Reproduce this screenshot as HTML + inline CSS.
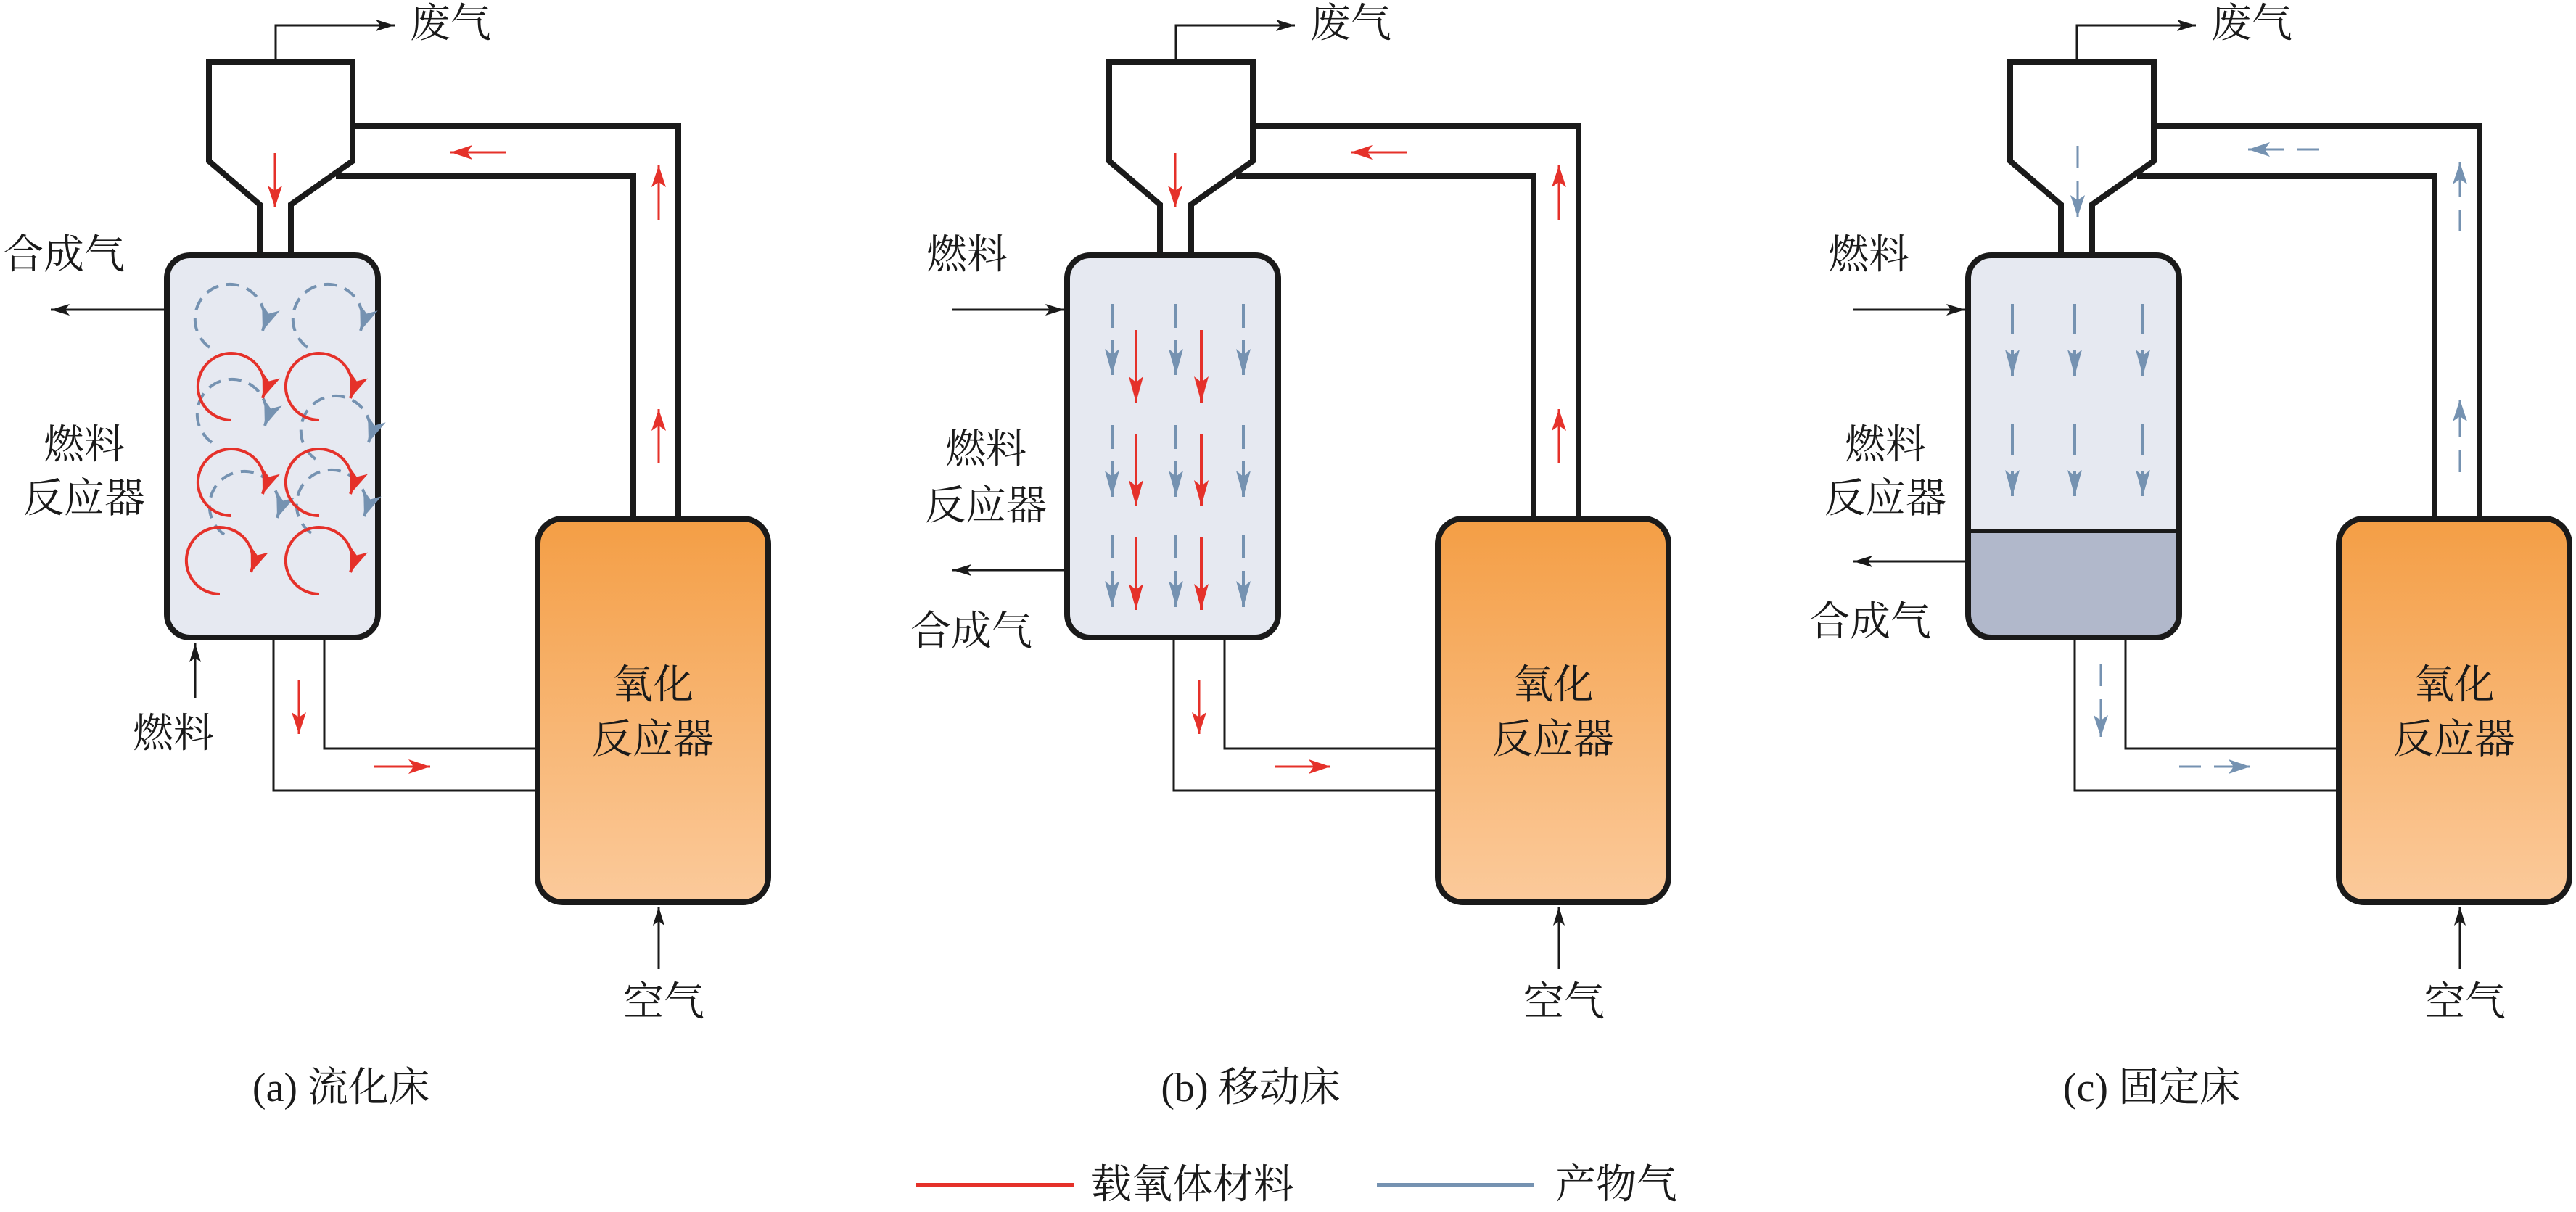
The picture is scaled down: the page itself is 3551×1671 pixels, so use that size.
<!DOCTYPE html>
<html><head><meta charset="utf-8"><style>
html,body{margin:0;padding:0;background:#fff}
svg{display:block}
text{font-family:"Liberation Serif","Noto Serif CJK SC",serif;font-size:56px;fill:#1a1a1a;dominant-baseline:central}
</style></head><body>
<svg width="3551" height="1671" viewBox="0 0 3551 1671" xmlns="http://www.w3.org/2000/svg">
<defs>
<marker id="hr" markerUnits="userSpaceOnUse" markerWidth="50" markerHeight="30" viewBox="-40 -15 42 30" refX="0" refY="0" orient="auto"><path d="M0,0 L-36,-10 L-28,0 L-36,10 Z" fill="#E5312A"/></marker>
<marker id="hrs" markerUnits="userSpaceOnUse" markerWidth="50" markerHeight="30" viewBox="-40 -15 42 30" refX="0" refY="0" orient="auto"><path d="M0,0 L-30,-10 L-23,0 L-30,10 Z" fill="#E5312A"/></marker>
<marker id="hrw" markerUnits="userSpaceOnUse" markerWidth="50" markerHeight="34" viewBox="-40 -17 42 34" refX="0" refY="0" orient="auto"><path d="M0,0 L-34,-13 L-25,0 L-34,13 Z" fill="#E5312A"/></marker>
<marker id="hb" markerUnits="userSpaceOnUse" markerWidth="50" markerHeight="30" viewBox="-40 -15 42 30" refX="0" refY="0" orient="auto"><path d="M0,0 L-36,-10 L-28,0 L-36,10 Z" fill="#7592B1"/></marker>
<marker id="hbs" markerUnits="userSpaceOnUse" markerWidth="50" markerHeight="30" viewBox="-40 -15 42 30" refX="0" refY="0" orient="auto"><path d="M0,0 L-30,-10 L-23,0 L-30,10 Z" fill="#7592B1"/></marker>
<marker id="hbw" markerUnits="userSpaceOnUse" markerWidth="50" markerHeight="34" viewBox="-40 -17 42 34" refX="0" refY="0" orient="auto"><path d="M0,0 L-34,-13 L-25,0 L-34,13 Z" fill="#7592B1"/></marker>
<marker id="hk" markerUnits="userSpaceOnUse" markerWidth="40" markerHeight="24" viewBox="-30 -12 32 24" refX="0" refY="0" orient="auto"><path d="M0,0 L-26,-8 L-20,0 L-26,8 Z" fill="#1a1a1a"/></marker>
<linearGradient id="og" x1="0" y1="0" x2="0" y2="1"><stop offset="0" stop-color="#F49E45"/><stop offset="1" stop-color="#FBCA9B"/></linearGradient>
<linearGradient id="fb" x1="0" y1="0" x2="0" y2="1"><stop offset="0.721" stop-color="#E6E9F1"/><stop offset="0.721" stop-color="#B1B8CB"/></linearGradient>
<g id="sk">
  <path d="M380,85 V35 H544" fill="none" stroke="#1a1a1a" stroke-width="3" marker-end="url(#hk)"/>
  <path d="M486,174 H935 V715" fill="none" stroke="#1a1a1a" stroke-width="8"/>
  <path d="M463,243 H873 V715" fill="none" stroke="#1a1a1a" stroke-width="8"/>
  <path d="M358,352 V282 L288,222 V85 H486 V222 L401,282 V352" fill="#fff" stroke="#1a1a1a" stroke-width="8" stroke-linejoin="miter"/>
  <path d="M377,879 V1090 H741 M447,879 V1032 H741" fill="none" stroke="#1a1a1a" stroke-width="3"/>
  <rect x="741" y="715" width="318" height="529" rx="35" fill="url(#og)" stroke="#1a1a1a" stroke-width="8"/>
  <path d="M908,1336 V1250" stroke="#1a1a1a" stroke-width="3" marker-end="url(#hk)"/>
  <text x="900" y="945" text-anchor="middle">氧化</text>
  <text x="900" y="1020" text-anchor="middle">反应器</text>
  <text x="915" y="1382" text-anchor="middle">空气</text>
</g>
</defs>

<!-- Panel A -->
<use href="#sk"/>
<rect x="230" y="352" width="291" height="527" rx="32" fill="#E6E9F1" stroke="#1a1a1a" stroke-width="8"/>
<g fill="none" stroke="#7592B1" stroke-width="4" stroke-dasharray="18 11">
  <path d="M289,479 A48,48 0 1 1 362,456" marker-end="url(#hbw)"/>
  <path d="M424,479 A48,48 0 1 1 497,456" marker-end="url(#hbw)"/>
  <path d="M292,610 A48,48 0 1 1 365,587" marker-end="url(#hbw)"/>
  <path d="M435,633 A48,48 0 1 1 508,610" marker-end="url(#hbw)"/>
  <path d="M309,737 A48,48 0 1 1 382,714" marker-end="url(#hbw)"/>
  <path d="M429,735 A48,48 0 1 1 502,712" marker-end="url(#hbw)"/>
</g>
<g fill="none" stroke="#E5312A" stroke-width="4">
  <path d="M319,579 A46,46 0 1 1 362,549" marker-end="url(#hrw)"/>
  <path d="M440,579 A46,46 0 1 1 483,549" marker-end="url(#hrw)"/>
  <path d="M319,711 A46,46 0 1 1 362,681" marker-end="url(#hrw)"/>
  <path d="M440,711 A46,46 0 1 1 483,681" marker-end="url(#hrw)"/>
  <path d="M303,819 A46,46 0 1 1 346,789" marker-end="url(#hrw)"/>
  <path d="M440,819 A46,46 0 1 1 483,789" marker-end="url(#hrw)"/>
</g>
<g stroke="#E5312A" stroke-width="3" fill="none">
  <path d="M379,211 V286" marker-end="url(#hrs)"/>
  <path d="M698,210 H621" marker-end="url(#hrs)"/>
  <path d="M908,303 V228" marker-end="url(#hrs)"/>
  <path d="M908,638 V564" marker-end="url(#hrs)"/>
  <path d="M412,937 V1012" marker-end="url(#hrs)"/>
  <path d="M516,1057 H593" marker-end="url(#hrs)"/>
</g>
<path d="M226,427 H70" stroke="#1a1a1a" stroke-width="3" marker-end="url(#hk)"/>
<path d="M269,962 V887" stroke="#1a1a1a" stroke-width="3" marker-end="url(#hk)"/>
<text x="565" y="33">废气</text>
<text x="4" y="352">合成气</text>
<text x="116" y="614" text-anchor="middle">燃料</text>
<text x="116" y="688" text-anchor="middle">反应器</text>
<text x="239" y="1012" text-anchor="middle">燃料</text>
<text x="470" y="1500" text-anchor="middle">(a) 流化床</text>

<!-- Panel B -->
<g transform="translate(1241,0)">
<use href="#sk"/>
<rect x="230" y="352" width="291" height="527" rx="32" fill="#E6E9F1" stroke="#1a1a1a" stroke-width="8"/>
<g stroke="#7592B1" stroke-width="4" fill="none" stroke-dasharray="33 17 200">
  <path d="M292,419 V517" marker-end="url(#hb)"/><path d="M380,419 V517" marker-end="url(#hb)"/><path d="M473,419 V517" marker-end="url(#hb)"/>
  <path d="M292,586 V685" marker-end="url(#hb)"/><path d="M380,586 V685" marker-end="url(#hb)"/><path d="M473,586 V685" marker-end="url(#hb)"/>
  <path d="M292,737 V837" marker-end="url(#hb)"/><path d="M380,737 V837" marker-end="url(#hb)"/><path d="M473,737 V837" marker-end="url(#hb)"/>
</g>
<g stroke="#E5312A" stroke-width="4" fill="none">
  <path d="M325,455 V555" marker-end="url(#hr)"/><path d="M415,455 V555" marker-end="url(#hr)"/>
  <path d="M325,598 V698" marker-end="url(#hr)"/><path d="M415,598 V698" marker-end="url(#hr)"/>
  <path d="M325,741 V841" marker-end="url(#hr)"/><path d="M415,741 V841" marker-end="url(#hr)"/>
</g>
<g stroke="#E5312A" stroke-width="3" fill="none">
  <path d="M379,211 V286" marker-end="url(#hrs)"/>
  <path d="M698,210 H621" marker-end="url(#hrs)"/>
  <path d="M908,303 V228" marker-end="url(#hrs)"/>
  <path d="M908,638 V564" marker-end="url(#hrs)"/>
  <path d="M412,937 V1012" marker-end="url(#hrs)"/>
  <path d="M516,1057 H593" marker-end="url(#hrs)"/>
</g>
<path d="M71,427 H226" stroke="#1a1a1a" stroke-width="3" marker-end="url(#hk)"/>
<path d="M226,786 H72" stroke="#1a1a1a" stroke-width="3" marker-end="url(#hk)"/>
<text x="565" y="33">废气</text>
<text x="92" y="352" text-anchor="middle">燃料</text>
<text x="118" y="620" text-anchor="middle">燃料</text>
<text x="118" y="698" text-anchor="middle">反应器</text>
<text x="98" y="871" text-anchor="middle">合成气</text>
<text x="483" y="1500" text-anchor="middle">(b) 移动床</text>
</g>

<!-- Panel C -->
<g transform="translate(2483,0)">
<use href="#sk"/>
<rect x="230" y="352" width="291" height="527" rx="32" fill="url(#fb)" stroke="#1a1a1a" stroke-width="8"/>
<path d="M230,732 H521" stroke="#1a1a1a" stroke-width="6"/>
<g stroke="#7592B1" stroke-width="4" fill="none" stroke-dasharray="42 22 200">
  <path d="M291,419 V518" marker-end="url(#hb)"/><path d="M377,419 V518" marker-end="url(#hb)"/><path d="M471,419 V518" marker-end="url(#hb)"/>
  <path d="M291,585 V684" marker-end="url(#hb)"/><path d="M377,585 V684" marker-end="url(#hb)"/><path d="M471,585 V684" marker-end="url(#hb)"/>
</g>
<g stroke="#7592B1" stroke-width="3" fill="none" stroke-dasharray="30 18 200">
  <path d="M381,201 V299" marker-end="url(#hbs)"/>
  <path d="M714,206 H616" marker-end="url(#hbs)"/>
  <path d="M908,319 V224" marker-end="url(#hbs)"/>
  <path d="M908,651 V551" marker-end="url(#hbs)"/>
  <path d="M413,916 V1016" marker-end="url(#hbs)"/>
  <path d="M521,1057 H619" marker-end="url(#hbs)"/>
</g>
<path d="M71,427 H226" stroke="#1a1a1a" stroke-width="3" marker-end="url(#hk)"/>
<path d="M226,774 H72" stroke="#1a1a1a" stroke-width="3" marker-end="url(#hk)"/>
<text x="565" y="33">废气</text>
<text x="93" y="352" text-anchor="middle">燃料</text>
<text x="116" y="614" text-anchor="middle">燃料</text>
<text x="116" y="688" text-anchor="middle">反应器</text>
<text x="95" y="858" text-anchor="middle">合成气</text>
<text x="483" y="1500" text-anchor="middle">(c) 固定床</text>
</g>

<!-- Legend -->
<path d="M1263,1634 H1481" stroke="#E5312A" stroke-width="6"/>
<text x="1504" y="1634">载氧体材料</text>
<path d="M1898,1634 H2114" stroke="#7592B1" stroke-width="6"/>
<text x="2144" y="1634">产物气</text>
</svg>
</body></html>
